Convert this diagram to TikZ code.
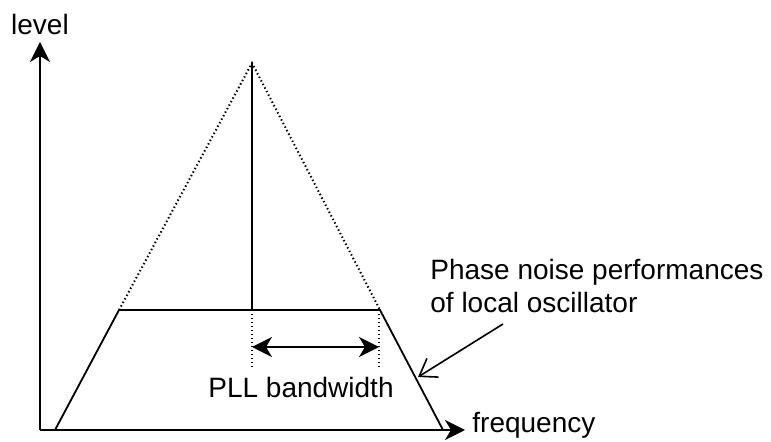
\documentclass[tikz,border=0pt]{standalone}
\usepackage{fontspec}
\setmainfont{Liberation Sans}
\usetikzlibrary{arrows.meta}
\tikzset{
  axis/.style={line width=1pt,-{Stealth[length=10pt,width=10pt,inset=3pt]}},
  curve/.style={line width=0.9pt},
  dotline/.style={line width=1pt,dash pattern=on 0.7pt off 1.3pt},
  span/.style={line width=1pt,{Stealth[length=10pt,width=10pt,inset=3pt]}-{Stealth[length=10pt,width=10pt,inset=3pt]}},
  pointer/.style={line width=0.8pt,-{Straight Barb[length=8pt,width=11pt]}},
  lbl/.style={inner sep=0pt,anchor=base west,font=\fontsize{14}{16}\selectfont}
}
\begin{document}
\begin{tikzpicture}[x=0.5pt,y=-0.5pt]
\useasboundingbox (0,0) rectangle (771,442);
% key points of the spectrum sketch
\coordinate (O) at (40,430);
\coordinate (ytop) at (40,42);
\coordinate (xend) at (465,430);
\coordinate (peak) at (252,63);
\coordinate (shL) at (119,310);
\coordinate (shR) at (380,310);
\coordinate (shM) at (252,310);
\coordinate (footL) at (55,430);
\coordinate (footR) at (443,430);
\coordinate (tickL) at (252,369);
\coordinate (tickRtop) at (379,310);
\coordinate (tickR) at (379,369);
\coordinate (bwL) at (252,347);
\coordinate (bwR) at (379,347);
\coordinate (tail) at (503,324);
\coordinate (tip) at (418,377);

% axes
\draw[axis] (O) -- (ytop);
\draw[axis] (O) -- (xend);

% ideal carrier and its extrapolated skirts
\draw[curve] (peak) -- (shM);
\draw[dotline] (shL) -- (peak) -- (shR);

% phase noise pedestal
\draw[curve] (footL) -- (shL) -- (shR) -- (footR);

% loop bandwidth marker
\draw[dotline] (shM) -- (tickL);
\draw[dotline] (tickRtop) -- (tickR);
\draw[span] (bwL) -- (bwR);

% labels
\node[lbl,anchor=base] (level) at (40,35) {level};
\node[lbl] (freq) at (472,433) {frequency};
\node[lbl] (pll) at (208,398) {PLL bandwidth};
\node[lbl] (pn1) at (430,280) {Phase noise performances};
\node[lbl] (pn2) at (430,313) {of local oscillator};

\draw[pointer] (tail) -- (tip);
\end{tikzpicture}
\end{document}
